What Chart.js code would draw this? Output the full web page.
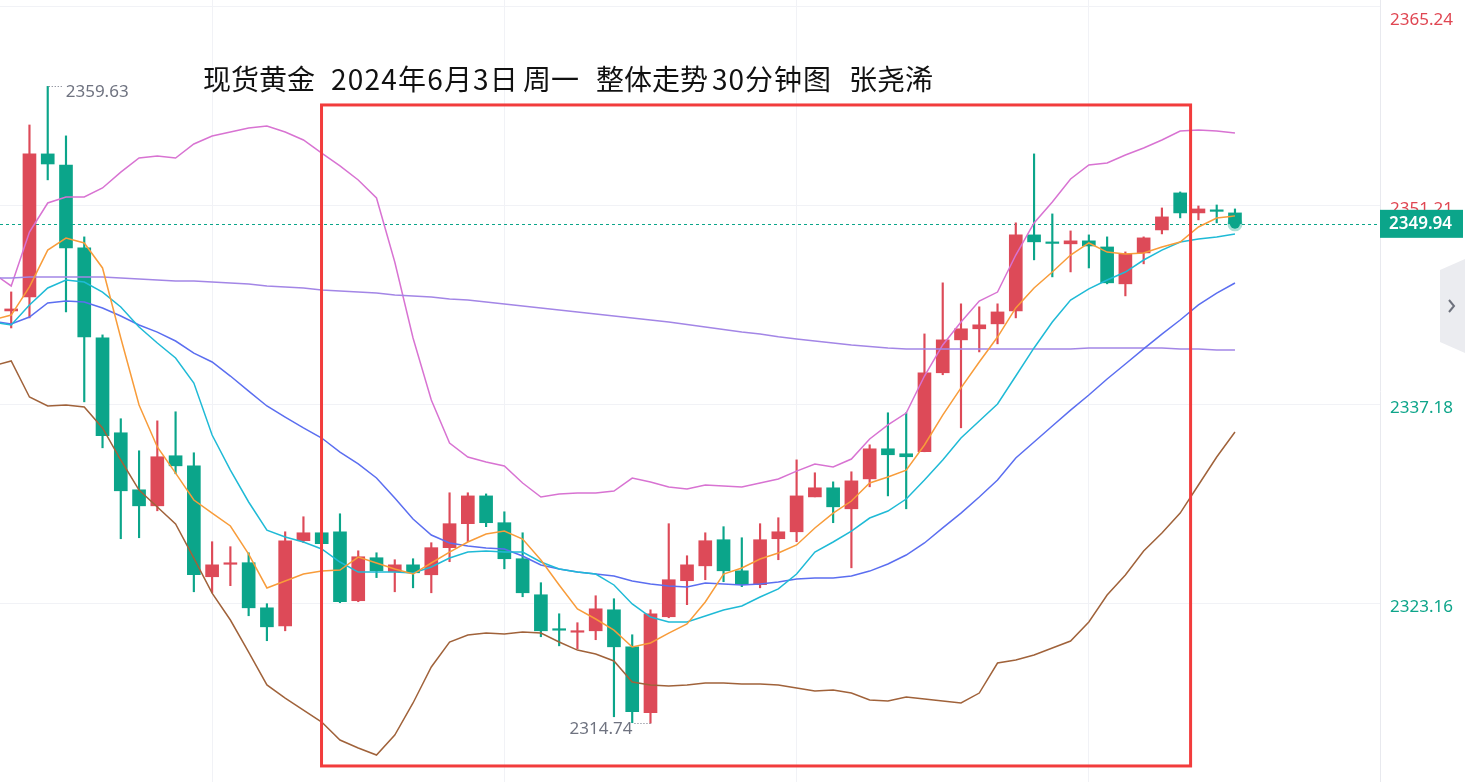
<!DOCTYPE html>
<html><head><meta charset="utf-8">
<script src="https://cdn.jsdelivr.net/npm/chart.js@4.4.1/dist/chart.umd.min.js"></script>
<style>html,body{margin:0;padding:0;background:#fff;overflow:hidden}#wrap{width:1465px;height:782px;position:relative}</style>
</head><body><div id="wrap"><canvas id="c"></canvas></div>
<script>
// ---- data (30-min candles, index 0..67) ----
const opens  = [2343.80,2344.79,2354.87,2354.09,2348.25,2341.90,2335.21,2331.19,2330.06,2333.59,2332.88,2325.06,2325.94,2326.05,2322.87,2321.60,2327.60,2328.16,2328.23,2323.37,2326.40,2325.41,2325.90,2325.20,2327.11,2328.80,2330.76,2328.87,2326.33,2323.79,2321.36,2321.15,2321.25,2322.73,2320.12,2315.47,2322.24,2324.78,2325.83,2327.67,2325.48,2324.50,2327.74,2328.23,2330.69,2331.33,2329.85,2331.96,2334.08,2333.73,2333.87,2339.44,2341.76,2342.54,2342.89,2343.80,2349.16,2348.63,2348.53,2348.74,2348.31,2345.71,2347.89,2349.51,2352.12,2350.71,2350.89,2350.71];
const highs  = [2345.14,2356.91,2359.63,2356.14,2349.02,2342.11,2336.20,2333.94,2336.05,2336.69,2333.80,2327.53,2327.18,2326.75,2323.16,2328.23,2329.29,2328.30,2329.50,2326.89,2326.75,2326.26,2326.33,2327.46,2330.98,2330.98,2330.90,2329.64,2328.16,2324.64,2322.45,2321.82,2323.72,2323.51,2320.97,2322.73,2328.80,2326.54,2328.16,2328.59,2327.81,2328.80,2329.22,2333.30,2332.39,2331.75,2332.46,2334.36,2336.62,2336.62,2342.18,2345.78,2344.30,2344.09,2344.30,2350.01,2354.87,2350.64,2349.44,2349.16,2349.02,2347.96,2349.02,2351.06,2352.19,2351.20,2351.27,2350.99];
const lows   = [2342.60,2343.31,2353.04,2343.73,2337.39,2334.15,2327.74,2327.81,2329.71,2332.32,2324.00,2323.93,2324.43,2322.31,2320.55,2321.25,2327.46,2327.25,2323.23,2323.30,2325.00,2324.00,2324.28,2323.93,2326.12,2327.53,2328.59,2325.62,2323.65,2320.83,2320.19,2319.98,2320.62,2315.19,2314.77,2314.74,2322.17,2323.09,2324.85,2324.71,2324.36,2324.28,2326.26,2327.53,2330.69,2328.87,2325.69,2331.40,2330.76,2329.85,2333.87,2339.30,2335.56,2340.91,2341.48,2343.31,2347.40,2346.20,2346.55,2346.83,2345.71,2344.86,2347.12,2349.23,2350.36,2350.22,2350.01,2349.94];
const closes = [2343.94,2354.87,2354.16,2348.25,2341.97,2335.00,2331.12,2330.06,2333.52,2332.88,2325.20,2325.90,2326.01,2322.87,2321.53,2327.60,2328.16,2327.39,2323.30,2326.47,2325.48,2325.90,2325.34,2327.11,2328.80,2330.76,2328.87,2326.33,2323.93,2321.25,2321.29,2321.22,2322.80,2320.12,2315.54,2322.45,2324.85,2325.90,2327.60,2325.48,2324.50,2327.67,2328.23,2330.76,2331.33,2329.99,2331.82,2334.08,2333.66,2333.52,2339.44,2341.76,2342.54,2342.82,2343.73,2349.16,2348.67,2348.56,2348.74,2348.38,2345.78,2347.82,2348.95,2350.43,2350.71,2350.99,2350.82,2349.94];

// ---- indicator lines (index -1..67) ----
const ma5    = [2343.16,2343.51,2345.49,2348.09,2348.94,2348.59,2346.83,2341.89,2337.17,2334.21,2332.37,2330.47,2329.55,2328.64,2326.66,2324.27,2324.76,2325.25,2325.46,2325.53,2326.45,2326.03,2325.61,2325.25,2326.03,2326.80,2327.51,2328.07,2328.28,2327.72,2326.24,2324.48,2322.79,2322.08,2321.30,2320.11,2320.39,2321.09,2321.73,2323.28,2325.25,2325.68,2326.31,2326.73,2327.30,2328.50,2329.55,2330.40,2331.67,2332.09,2332.58,2334.35,2336.46,2338.37,2340.20,2341.96,2344.01,2345.42,2346.54,2347.74,2348.59,2347.95,2347.81,2347.88,2348.31,2348.66,2349.72,2350.35,2350.49];
const ma10   = [2343.02,2342.81,2344.22,2345.42,2345.98,2345.84,2345.13,2344.08,2342.67,2341.54,2340.48,2338.72,2335.05,2332.58,2330.33,2328.35,2327.86,2327.51,2327.02,2326.10,2325.39,2325.39,2325.39,2325.32,2325.75,2326.38,2326.80,2326.87,2326.80,2326.80,2326.10,2325.61,2325.39,2325.25,2324.48,2323.14,2322.22,2321.87,2321.87,2322.29,2322.71,2323.00,2323.63,2324.20,2325.25,2326.80,2327.51,2328.28,2329.20,2329.69,2330.54,2331.88,2333.29,2334.84,2336.04,2337.24,2339.21,2341.19,2343.02,2344.57,2345.35,2345.98,2346.54,2347.39,2348.09,2348.66,2348.87,2349.01,2349.22];
const ma20   = [2343.09,2342.88,2343.37,2344.36,2344.50,2344.43,2344.01,2343.44,2342.81,2342.31,2341.68,2340.83,2340.20,2339.21,2338.15,2337.10,2336.32,2335.55,2334.84,2333.85,2333.01,2332.02,2330.61,2329.13,2328.00,2327.44,2327.23,2327.09,2327.02,2326.52,2325.89,2325.61,2325.39,2325.25,2325.11,2324.76,2324.55,2324.41,2324.34,2324.62,2324.55,2324.48,2324.55,2324.69,2324.90,2324.97,2324.97,2325.11,2325.46,2325.96,2326.59,2327.44,2328.50,2329.55,2330.68,2331.88,2333.43,2334.56,2335.69,2336.81,2337.87,2339.00,2340.06,2341.12,2342.17,2343.16,2344.22,2345.06,2345.77];
const maLong = [2346.12,2346.12,2346.19,2346.19,2346.19,2346.19,2346.19,2346.12,2346.05,2345.98,2345.91,2345.91,2345.84,2345.77,2345.70,2345.56,2345.49,2345.42,2345.28,2345.21,2345.13,2345.06,2344.92,2344.85,2344.78,2344.64,2344.57,2344.43,2344.29,2344.15,2344.01,2343.87,2343.73,2343.58,2343.44,2343.30,2343.16,2343.02,2342.84,2342.67,2342.49,2342.31,2342.17,2341.98,2341.82,2341.68,2341.54,2341.40,2341.29,2341.19,2341.12,2341.12,2341.12,2341.12,2341.12,2341.12,2341.12,2341.12,2341.12,2341.12,2341.19,2341.19,2341.19,2341.19,2341.19,2341.12,2341.12,2341.05,2341.05];
const bollUp = [2346.47,2345.56,2349.36,2351.41,2351.83,2351.83,2352.47,2353.59,2354.58,2354.72,2354.58,2355.57,2356.13,2356.41,2356.70,2356.84,2356.41,2355.85,2354.93,2354.02,2353.03,2351.76,2347.25,2341.89,2337.52,2334.49,2333.50,2333.15,2332.87,2331.67,2330.68,2330.89,2330.96,2330.96,2331.10,2332.02,2331.74,2331.39,2331.25,2331.53,2331.46,2331.39,2331.67,2331.95,2332.51,2333.01,2332.80,2333.36,2334.77,2335.76,2336.60,2339.21,2341.40,2343.02,2344.50,2345.13,2347.74,2350.00,2351.48,2353.10,2354.09,2354.23,2354.79,2355.29,2355.85,2356.48,2356.55,2356.48,2356.34];
const bollDn = [2339.92,2340.27,2337.73,2337.10,2337.17,2337.03,2335.55,2333.29,2331.17,2329.98,2328.78,2326.38,2323.91,2322.01,2319.75,2317.43,2316.51,2315.66,2314.82,2313.55,2312.99,2312.49,2313.90,2316.16,2318.70,2320.46,2320.95,2321.09,2321.02,2321.16,2321.09,2320.46,2319.89,2319.61,2319.12,2317.64,2317.43,2317.36,2317.43,2317.57,2317.57,2317.50,2317.50,2317.43,2317.22,2317.00,2317.07,2316.86,2316.37,2316.30,2316.58,2316.44,2316.30,2316.16,2316.86,2318.98,2319.19,2319.54,2320.04,2320.53,2321.87,2323.77,2325.18,2326.87,2328.14,2329.55,2331.53,2333.50,2335.26];

const yTickLabels = [2365.24, 2351.21, 2337.18, 2323.16];
const xGridAt = [11, 27, 43, 59];
const lastPrice = 2349.94;
const titleParts = [['现货黄金',203,0],['2024年6月3日',331,1.2],['周一',523,0],['整体走势',596,0],['30分钟图',712,1],['张尧浠',849,0]];
const boxRange = {x0: 16.99, x1: 64.57, yTop: 2358.32, yBottom: 2311.72};

const RED = '#dd4a58', GREEN = '#0ba58a', RED_T = '#e04652', GREEN_T = '#0ea58a';
const candleIdx = opens.map((_, i) => i);
const lineIdx = ma5.map((_, k) => k - 1);
const isUp = i => closes[i] >= opens[i];
const toPts = arr => arr.map((v, k) => ({x: lineIdx[k], y: v}));

function lineDs(label, arr, color) {
  return {type: 'line', label, data: toPts(arr), borderColor: color, borderWidth: 1.5,
          pointRadius: 0, tension: 0, fill: false, order: 1};
}

const overlay = {
  id: 'overlay',
  beforeDatasetsDraw(chart) {
    const {ctx, chartArea: ca, scales: {y}} = chart;
    const py = Math.round(y.getPixelForValue(lastPrice)) + 0.5;
    ctx.save();
    ctx.strokeStyle = GREEN; ctx.lineWidth = 1; ctx.setLineDash([3, 3]);
    ctx.beginPath(); ctx.moveTo(ca.left, py); ctx.lineTo(ca.right, py); ctx.stroke();
    ctx.restore();
  },
  afterDatasetsDraw(chart) {
    const {ctx, chartArea: ca, scales: {x, y}} = chart;
    ctx.save();
    let hi = 0, lo = 0;
    highs.forEach((v, i) => { if (v > highs[hi]) hi = i; });
    lows.forEach((v, i) => { if (v < lows[lo]) lo = i; });
    ctx.font = '17px "Noto Sans", sans-serif';
    ctx.fillStyle = '#6f7380'; ctx.strokeStyle = '#6f7380'; ctx.lineWidth = 1;
    ctx.textBaseline = 'middle';
    const hx = x.getPixelForValue(hi), hy = y.getPixelForValue(highs[hi]);
    ctx.setLineDash([1, 2]);
    ctx.beginPath(); ctx.moveTo(hx + 1, Math.round(hy) + 0.5); ctx.lineTo(hx + 15, Math.round(hy) + 0.5); ctx.stroke();
    ctx.textAlign = 'left'; ctx.fillText(highs[hi].toFixed(2), hx + 18, hy + 6);
    const lx = x.getPixelForValue(lo), ly = y.getPixelForValue(lows[lo]);
    ctx.beginPath(); ctx.moveTo(lx - 16, Math.round(ly) + 0.5); ctx.lineTo(lx, Math.round(ly) + 0.5); ctx.stroke();
    ctx.setLineDash([]);
    ctx.textAlign = 'right'; ctx.fillText(lows[lo].toFixed(2), lx - 18, ly + 6);
    ctx.strokeStyle = '#f23c3c'; ctx.lineWidth = 3;
    const bx0 = x.getPixelForValue(boxRange.x0), bx1 = x.getPixelForValue(boxRange.x1);
    const by0 = y.getPixelForValue(boxRange.yTop), by1 = y.getPixelForValue(boxRange.yBottom);
    ctx.strokeRect(bx0, by0, bx1 - bx0, by1 - by0);
    ctx.fillStyle = '#111'; ctx.textAlign = 'left'; ctx.textBaseline = 'middle';
    ctx.font = '28px "Noto Sans CJK SC", sans-serif';
    titleParts.forEach(([t, tx, sp]) => {
      if ('letterSpacing' in ctx) ctx.letterSpacing = sp + 'px';
      ctx.fillText(t, tx, 79);
    });
    if ('letterSpacing' in ctx) ctx.letterSpacing = '0px';
    ctx.restore();
  },
  afterDraw(chart) {
    const {ctx, chartArea: ca, scales: {y}} = chart;
    const W = chart.width;
    ctx.save();
    ctx.font = '17px "Noto Sans", sans-serif';
    ctx.textBaseline = 'middle'; ctx.textAlign = 'left';
    yTickLabels.forEach(v => {
      let py = y.getPixelForValue(v) + 3;
      if (py < 20) py = 20;
      ctx.fillStyle = v > lastPrice ? RED_T : GREEN_T;
      ctx.fillText(v.toFixed(2), ca.right + 10, py);
    });
    const lp = y.getPixelForValue(lastPrice);
    ctx.fillStyle = GREEN;
    ctx.fillRect(ca.right, lp - 14, 83, 28);
    ctx.fillStyle = '#fff'; ctx.font = '600 17px "Noto Sans", sans-serif';
    ctx.fillText(lastPrice.toFixed(2), ca.right + 9, lp + 0.5);
    ctx.fillStyle = '#ebecf0';
    ctx.beginPath();
    ctx.moveTo(W - 25, 270); ctx.lineTo(W, 259); ctx.lineTo(W, 353); ctx.lineTo(W - 25, 342); ctx.closePath();
    ctx.fill();
    ctx.strokeStyle = '#6e727d'; ctx.lineWidth = 2;
    ctx.beginPath(); ctx.moveTo(W - 16, 300); ctx.lineTo(W - 11, 306); ctx.lineTo(W - 16, 312); ctx.stroke();
    ctx.restore();
  }
};

new Chart(document.getElementById('c'), {
  data: {
    datasets: [
      lineDs('MA5', ma5, '#f89c3a'),
      lineDs('MA10', ma10, '#1fbad6'),
      lineDs('MA20', ma20, '#5b6ef0'),
      lineDs('MA', maLong, '#a386e6'),
      lineDs('UP', bollUp, '#d873d2'),
      lineDs('DN', bollDn, '#a0623a'),
      {type: 'line', label: 'last', data: [{x: candleIdx[candleIdx.length - 1], y: lastPrice}], showLine: false,
       pointRadius: 5, pointBackgroundColor: GREEN, pointBorderColor: 'rgba(11,165,138,0.35)', pointBorderWidth: 5, order: 0, clip: false},
      {type: 'bar', label: 'wick', data: candleIdx.map(i => ({x: i, y: [lows[i], highs[i]]})),
       backgroundColor: candleIdx.map(i => isUp(i) ? RED : GREEN), barThickness: 1.5, grouped: false, order: 3},
      {type: 'bar', label: 'body', data: candleIdx.map(i => ({x: i, y: [opens[i], closes[i]]})),
       backgroundColor: candleIdx.map(i => isUp(i) ? RED : GREEN), barThickness: 13, minBarLength: 1.5, grouped: false, order: 2}
    ]
  },
  options: {
    responsive: true, maintainAspectRatio: false, animation: false, events: [],
    layout: {padding: 0, autoPadding: false},
    plugins: {legend: {display: false}, tooltip: {enabled: false}},
    scales: {
      x: {type: 'linear', min: -0.613, max: 74.94, offset: false,
          afterBuildTicks: s => { s.ticks = xGridAt.map(v => ({value: v})); },
          afterFit: s => { s.height = 0; },
          ticks: {display: false}, border: {display: false},
          grid: {color: '#f1f2f6', drawTicks: false, offset: false}},
      y: {type: 'linear', position: 'right', min: 2310.59, max: 2365.72,
          afterBuildTicks: s => { s.ticks = yTickLabels.map(v => ({value: v})); },
          afterFit: s => { s.width = 85; },
          ticks: {display: false},
          border: {display: true, color: '#e8e9ee'},
          grid: {color: '#f1f2f6', drawTicks: false}}
    }
  },
  plugins: [overlay]
});
</script></body></html>
